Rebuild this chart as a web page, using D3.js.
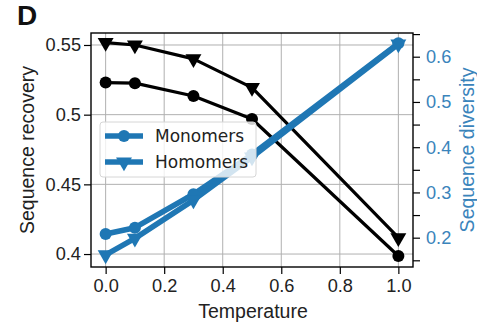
<!DOCTYPE html>
<html>
<head>
<meta charset="utf-8">
<script src="https://cdn.jsdelivr.net/npm/d3@7"></script>
<style>
  html, body { margin: 0; padding: 0; background: #fff; }
  svg { display: block; }
</style>
</head>
<body>
<div id="chart"></div>
<script>
// data
const temperature = [0.0, 0.1, 0.3, 0.5, 1.0];
const monoRecovery = [0.523, 0.5226, 0.5134, 0.4969, 0.3986];
const homoRecovery = [0.5517, 0.550, 0.540, 0.5194, 0.4117];
const monoDiversity = [0.2082, 0.222, 0.296, 0.384, 0.6296];
const homoDiversity = [0.1618, 0.1985, 0.283, 0.378, 0.628];

const xTicks = [0.0, 0.2, 0.4, 0.6, 0.8, 1.0];
const leftTicks = [0.4, 0.45, 0.5, 0.55];
const rightTicks = [0.15, 0.2, 0.25, 0.3, 0.35, 0.4, 0.45, 0.5, 0.55, 0.6, 0.65];
const rightLabels = [0.2, 0.3, 0.4, 0.5, 0.6];
const xLimits = [-0.05, 1.05];
const leftLimits = [0.3907, 0.5586];
const rightLimits = [0.1352, 0.6524];

const seriesNames = ['Monomers', 'Homomers'];

const W = 477, H = 324;
const blue = '#1f77b4';
const tickFont = 'Liberation Sans, Arial, sans-serif';

const svg = d3.select('#chart').append('svg')
  .attr('width', W).attr('height', H);

const margin = { top: 33, right: 64, bottom: 57, left: 91 };
const x = d3.scaleLinear().domain(xLimits).range([margin.left, W - margin.right]);
const yL = d3.scaleLinear().domain(leftLimits).range([H - margin.bottom, margin.top]);
const yR = d3.scaleLinear().domain(rightLimits).range([H - margin.bottom, margin.top]);

const x0 = margin.left, x1 = W - margin.right;
const y0 = H - margin.bottom, y1 = margin.top;

// grid
const grid = svg.append('g').attr('stroke', '#b0b0b0').attr('stroke-width', 1);
grid.selectAll('.gx').data(xTicks).enter().append('line')
  .attr('x1', d => x(d)).attr('x2', d => x(d)).attr('y1', y1).attr('y2', y0);
grid.selectAll('.gy').data(leftTicks).enter().append('line')
  .attr('y1', d => yL(d)).attr('y2', d => yL(d)).attr('x1', x0).attr('x2', x1);

// axes
const fmtX = d3.format('.1f');
const fmtL = d => (d === 0.5 ? '0.5' : d === 0.4 ? '0.4' : d3.format('.2f')(d));

const gx = svg.append('g').attr('transform', `translate(0,${y0})`)
  .call(d3.axisBottom(x).tickValues(xTicks).tickFormat(fmtX).tickSize(7).tickPadding(5));
const gl = svg.append('g').attr('transform', `translate(${x0},0)`)
  .call(d3.axisLeft(yL).tickValues(leftTicks).tickFormat(fmtL).tickSize(7).tickPadding(3));
const gr = svg.append('g').attr('transform', `translate(${x1},0)`)
  .call(d3.axisRight(yR).tickValues(rightTicks)
    .tickFormat(d => rightLabels.some(v => Math.abs(v - d) < 1e-9) ? d3.format('.1f')(d) : '')
    .tickSize(7).tickPadding(6));

[gx, gl, gr].forEach(g => {
  g.select('.domain').remove();
  g.selectAll('line').attr('stroke', '#000').attr('stroke-width', 1.2);
  g.selectAll('text').attr('font-family', tickFont).attr('font-size', 18.2).attr('fill', '#222');
});
gr.selectAll('text').attr('fill', '#3a84bb');

// frame
svg.append('rect').attr('x', x0).attr('y', y1)
  .attr('width', x1 - x0).attr('height', y0 - y1)
  .attr('fill', 'none').attr('stroke', '#000').attr('stroke-width', 1.4);

// lines
function drawSeries(vals, yScale, color, width, marker, r) {
  const pts = temperature.map((t, i) => [x(t), yScale(vals[i])]);
  svg.append('path').datum(pts)
    .attr('d', d3.line())
    .attr('fill', 'none').attr('stroke', color).attr('stroke-width', width)
    .attr('stroke-linejoin', 'round');
  const sym = d3.symbol().type(marker === 'circle' ? d3.symbolCircle : d3.symbolTriangle)
    .size(marker === 'circle' ? Math.PI * r * r : r * r * 2.6);
  svg.append('g').selectAll('path').data(pts).enter().append('path')
    .attr('d', sym)
    .attr('transform', d => marker === 'circle'
      ? `translate(${d[0]},${d[1]})`
      : `translate(${d[0]},${d[1]}) rotate(180)`)
    .attr('fill', color);
}

drawSeries(monoRecovery, yL, '#000', 3.2, 'circle', 6);
drawSeries(homoRecovery, yL, '#000', 3.2, 'triangle', 6.5);
drawSeries(monoDiversity, yR, blue, 5.5, 'circle', 6);
drawSeries(homoDiversity, yR, blue, 5.5, 'triangle', 6.5);

// legend
const leg = svg.append('g');
leg.append('rect').attr('x', 100).attr('y', 122).attr('width', 156).attr('height', 55)
  .attr('rx', 3).attr('fill', '#fff').attr('fill-opacity', 0.8)
  .attr('stroke', '#d6d6d6').attr('stroke-width', 1);
seriesNames.forEach((name, i) => {
  const ly = 136 + i * 26;
  leg.append('line').attr('x1', 105).attr('x2', 143).attr('y1', ly).attr('y2', ly)
    .attr('stroke', blue).attr('stroke-width', 5.5);
  const sym = d3.symbol().type(i === 0 ? d3.symbolCircle : d3.symbolTriangle)
    .size(i === 0 ? Math.PI * 36 : 6.5 * 6.5 * 2.6);
  leg.append('path').attr('d', sym)
    .attr('transform', i === 0 ? `translate(124,${ly})` : `translate(124,${ly}) rotate(180)`)
    .attr('fill', blue);
  leg.append('text').attr('x', 155).attr('y', ly + 6)
    .attr('font-family', 'DejaVu Sans, sans-serif').attr('font-size', 17)
    .attr('fill', '#222').text(name);
});

// axis titles
svg.append('text').attr('x', (x0 + x1) / 2 + 1).attr('y', 318)
  .attr('text-anchor', 'middle').attr('font-family', tickFont).attr('font-size', 19.5)
  .attr('fill', '#222').text('Temperature');
svg.append('text').attr('transform', `translate(34,${(y0 + y1) / 2}) rotate(-90)`)
  .attr('text-anchor', 'middle').attr('font-family', tickFont).attr('font-size', 19.5)
  .attr('fill', '#222').text('Sequence recovery');
svg.append('text').attr('transform', `translate(474,${(y0 + y1) / 2}) rotate(-90)`)
  .attr('text-anchor', 'middle').attr('font-family', tickFont).attr('font-size', 19.5)
  .attr('fill', '#3a84bb').text('Sequence diversity');

// panel letter
svg.append('text').attr('x', 17).attr('y', 25)
  .attr('font-family', 'Liberation Sans Narrow, Liberation Sans, Arial, sans-serif')
  .attr('font-weight', 'bold').attr('font-size', 28).attr('fill', '#111').text('D');
</script>
</body>
</html>
